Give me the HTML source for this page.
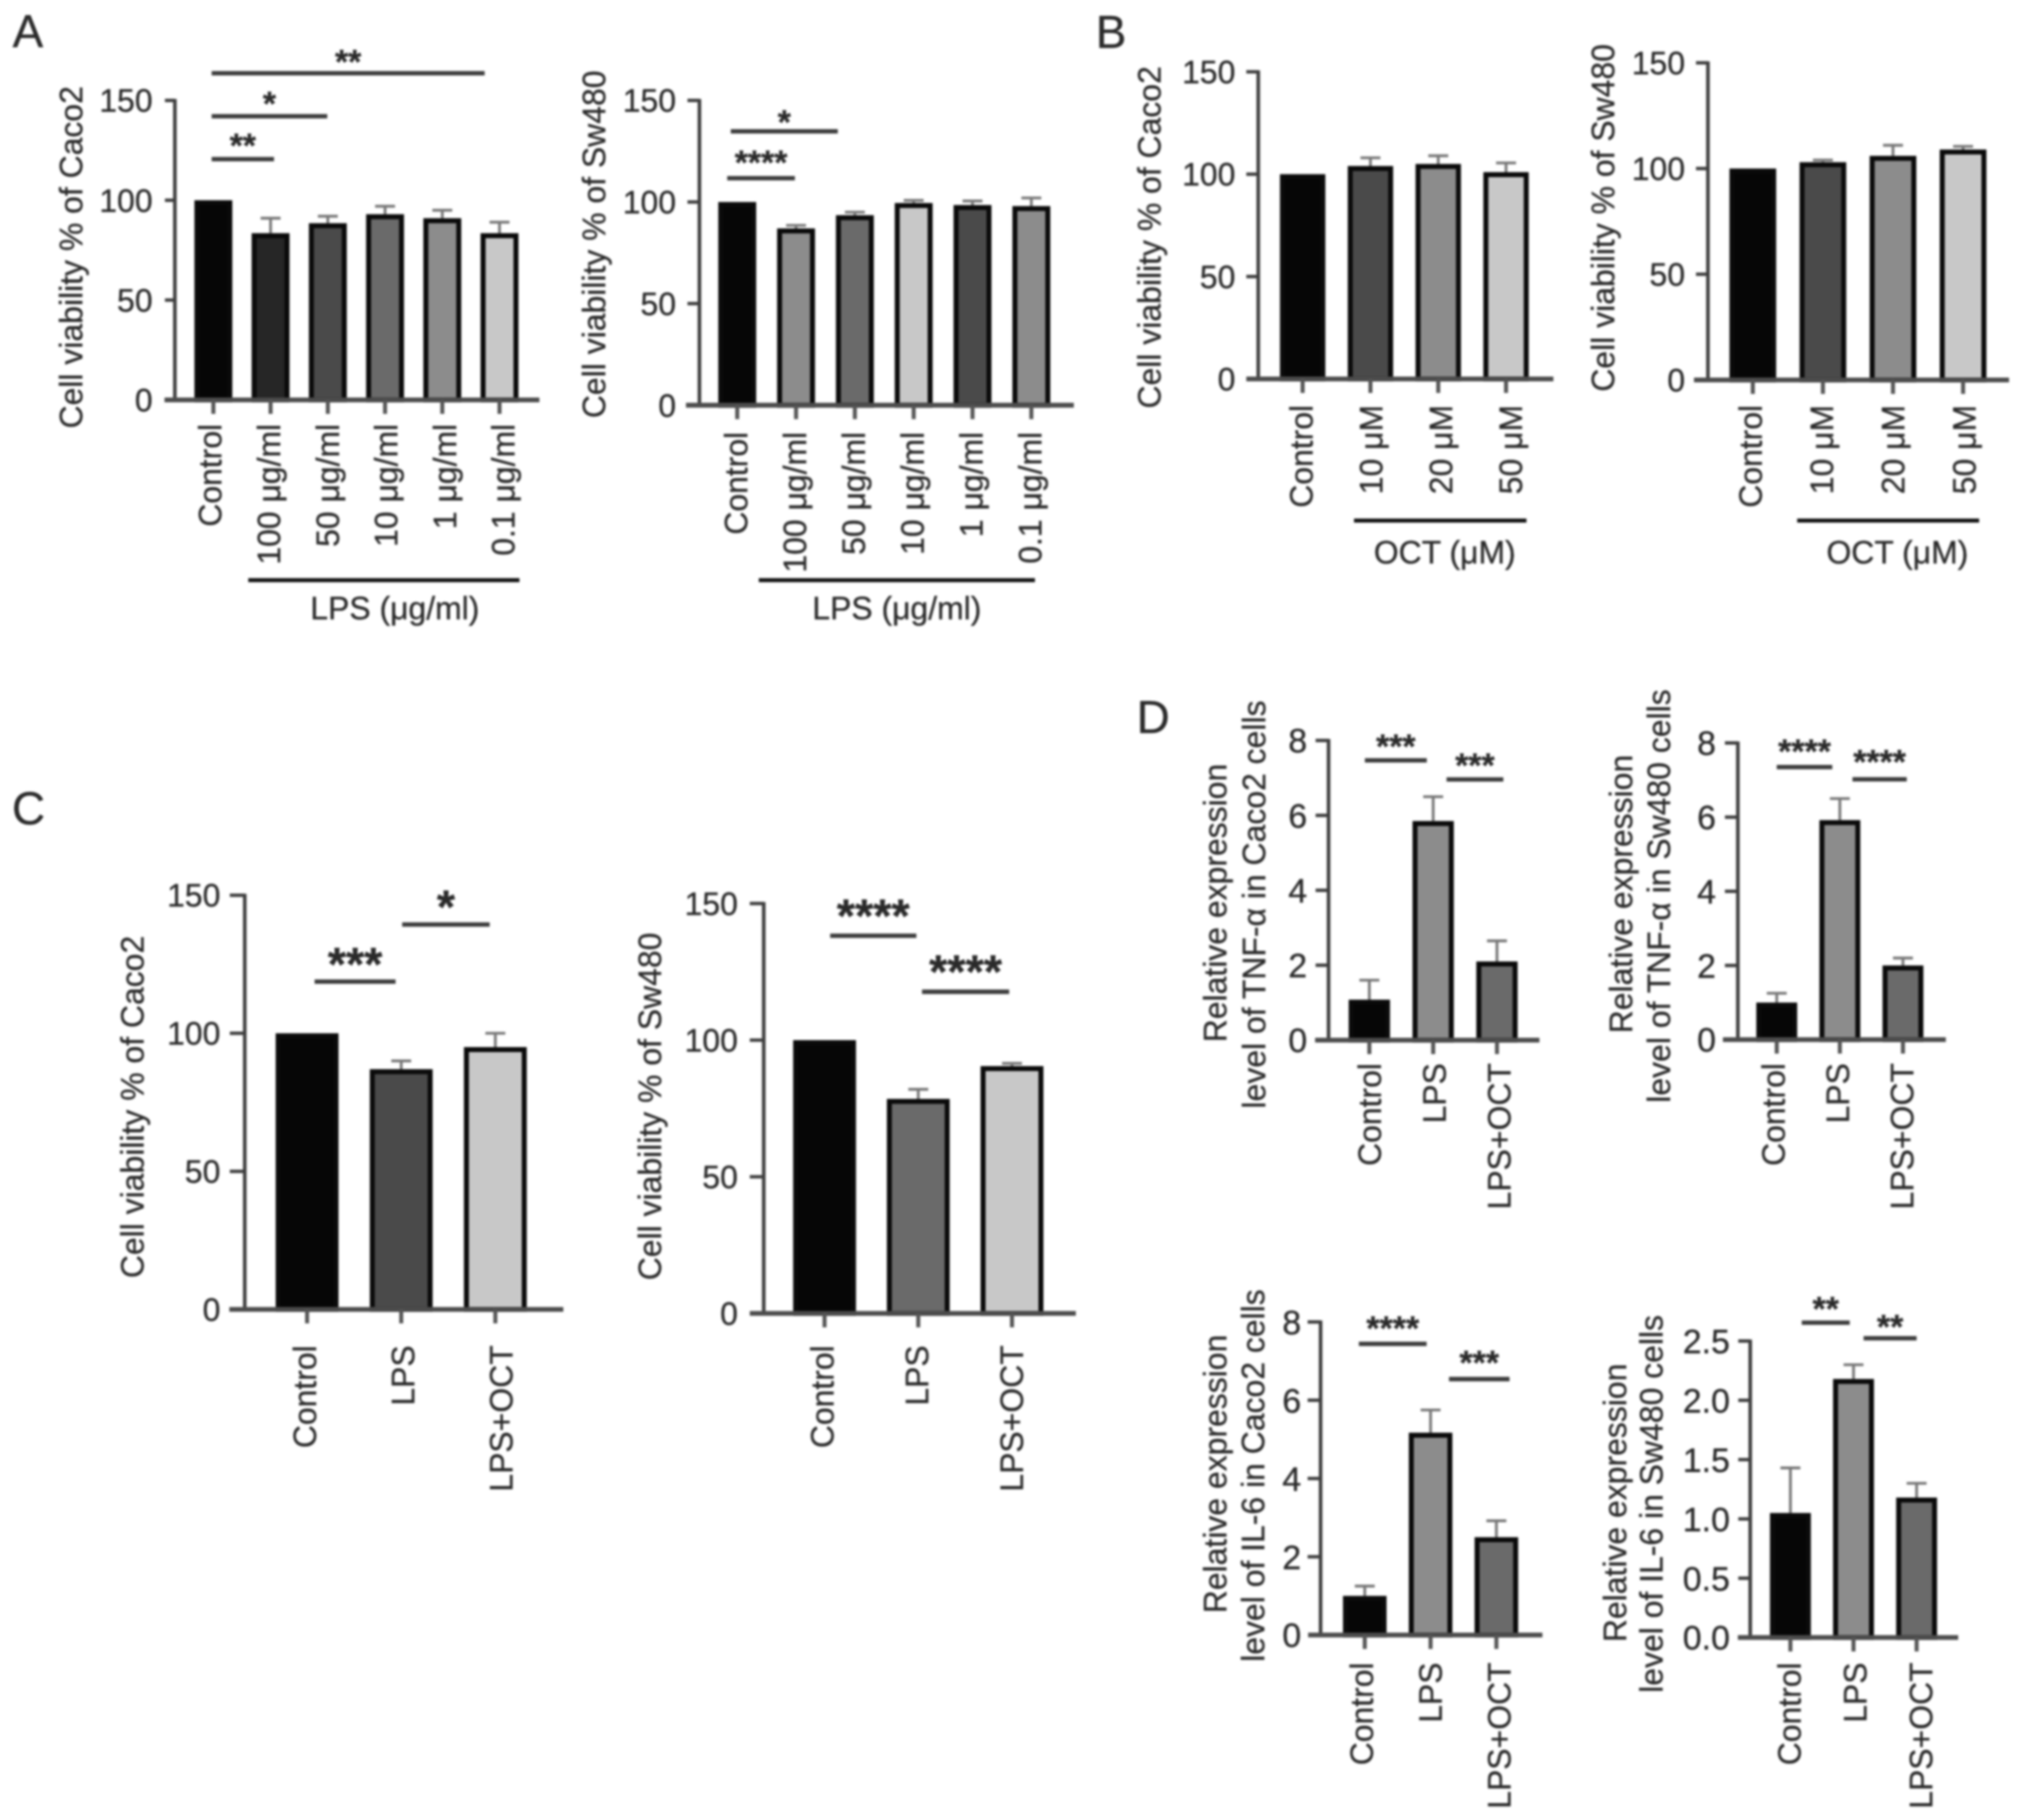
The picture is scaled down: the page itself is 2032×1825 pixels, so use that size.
<!DOCTYPE html>
<html lang="en">
<head>
<meta charset="utf-8">
<title>Cell viability and cytokine expression panels</title>
<style>
html,body{margin:0;padding:0;background:#fff;width:2032px;height:1825px;overflow:hidden}
svg{display:block;filter:blur(1px)}
text{font-family:"Liberation Sans",sans-serif;fill:#2a2a2a;stroke:#2a2a2a;stroke-width:0.3px}
</style>
</head>
<body>
<svg id="figure" xmlns="http://www.w3.org/2000/svg" width="2032" height="1825" viewBox="0 0 2032 1825"></svg>
<script>
// ---- Data: categories, series values, error tops, tick labels ----
const lpsDoseCategories = ["Control","100 μg/ml","50 μg/ml","10 μg/ml","1 μg/ml","0.1 μg/ml"];
const octDoseCategories = ["Control","10 μM","20 μM","50 μM"];
const treatmentCategories = ["Control","LPS","LPS+OCT"];

const viabilityTicks = [0,50,100,150];
const viabilityTickLabels = ["0","50","100","150"];
const expressionTicks = [0,2,4,6,8];
const expressionTickLabels = ["0","2","4","6","8"];
const il6Sw480Ticks = [0,0.5,1,1.5,2,2.5];
const il6Sw480TickLabels = ["0.0","0.5","1.0","1.5","2.0","2.5"];

const a1Values = [100,83.5,88.5,93,91,83.5];
const a1ErrorTops = [100,91,92,97,95,89];
const a2Values = [100,87,93.5,99.5,98.5,98];
const a2ErrorTops = [100,88.5,95,100.8,100.5,102];
const b1Values = [100,104,105,101];
const b1ErrorTops = [100,108,109,105.5];
const b2Values = [100,103,106,109];
const b2ErrorTops = [100,104,111,110.5];
const c1Values = [100,87,95];
const c1ErrorTops = [100,90,100];
const c2Values = [100,78.5,90.5];
const c2ErrorTops = [100,82,91.5];
const d1Values = [1.08,5.85,2.1];
const d1ErrorTops = [1.6,6.5,2.65];
const d2Values = [1,5.92,2];
const d2ErrorTops = [1.25,6.5,2.2];
const d3Values = [1,5.17,2.5];
const d3ErrorTops = [1.25,5.75,2.92];
const d4Values = [1.05,2.18,1.18];
const d4ErrorTops = [1.43,2.3,1.3];

// Significance brackets: from/to in category units, level in y-axis units
const a1Brackets = [{from:-0.03,to:4.74,level:163.6,stars:"**"},{from:-0.03,to:1.99,level:142.1,stars:"*"},{from:-0.03,to:1.06,level:120.6,stars:"**"}];
const a2Brackets = [{from:-0.11,to:1.71,level:134.8,stars:"*"},{from:-0.17,to:0.98,level:111.7,stars:"****"}];
const c1Brackets = [{from:0.08,to:0.94,level:118.7,stars:"***"},{from:1.01,to:1.94,level:139.4,stars:"*"}];
const c2Brackets = [{from:0.06,to:0.98,level:138.2,stars:"****"},{from:1.04,to:1.97,level:117.7,stars:"****"}];
const d1Brackets = [{from:-0.07,to:0.9,level:7.47,stars:"***"},{from:1.21,to:2.1,level:6.96,stars:"***"}];
const d2Brackets = [{from:0,to:0.88,level:7.35,stars:"****"},{from:1.2,to:2.06,level:7.02,stars:"****"}];
const d3Brackets = [{from:-0.09,to:0.94,level:7.44,stars:"****"},{from:1.28,to:2.2,level:6.54,stars:"***"}];
const d4Brackets = [{from:0.18,to:0.94,level:2.655,stars:"**"},{from:1.16,to:2,level:2.523,stars:"**"}];

// ---- Layout (pixels and styles only) ----
const K="#060606",G2="#262626",G3="#4a4a4a",G4="#6a6a6a",G5="#8c8c8c",G6="#c8c8c8";
const panels = [
 {id:"a1",cats:lpsDoseCategories,vals:a1Values,errs:a1ErrorTops,ticks:viabilityTicks,tickLabels:viabilityTickLabels,brackets:a1Brackets,
  fills:[K,G2,G3,G4,G5,G6],axisX:175.4,y0:401,yTop:100.7,x0:214,step:57.4,bw:38,axisL:165,axisR:541,tickFs:32,tickRight:153,yTick:10,labelTop:425,labelDx:-3,labelStep:58.8,
  titles:[{text:"Cell viability % of Caco2",x:71.5,cy:258}],group:{x1:249,x2:521,y:581.7,text:"LPS (μg/ml)",cx:396,cy:610},starFs:34,starDys:[0,-1,-2]},
 {id:"a2",cats:lpsDoseCategories,vals:a2Values,errs:a2ErrorTops,ticks:viabilityTicks,tickLabels:viabilityTickLabels,brackets:a2Brackets,
  fills:[K,G5,G4,G6,G3,G5],axisX:701.5,y0:406.3,yTop:100.7,x0:739.4,step:59,bw:38,axisL:688,axisR:1077,tickFs:32,tickRight:678,yTick:12,labelTop:433,labelDx:-1,labelStep:59,
  titles:[{text:"Cell viability % of Sw480",x:596,cy:245}],group:{x1:761,x2:1038,y:581.7,text:"LPS (μg/ml)",cx:899.5,cy:610},starFs:34,starDys:[2.5,-4]},
 {id:"b1",cats:octDoseCategories,vals:b1Values,errs:b1ErrorTops,ticks:viabilityTicks,tickLabels:viabilityTickLabels,brackets:[],
  fills:[K,G3,G5,G6],axisX:1262,y0:380,yTop:72,x0:1306.5,step:68,bw:45.5,axisL:1250,axisR:1558,tickFs:32,tickRight:1239,yTick:12,labelTop:406,labelDx:-1,labelStep:70,
  titles:[{text:"Cell viability % of Caco2",x:1153,cy:238}],group:{x1:1358,x2:1531,y:522,text:"OCT (μM)",cx:1449,cy:554},starFs:34,starDys:[]},
 {id:"b2",cats:octDoseCategories,vals:b2Values,errs:b2ErrorTops,ticks:viabilityTicks,tickLabels:viabilityTickLabels,brackets:[],
  fills:[K,G3,G5,G6],axisX:1713,y0:381,yTop:63,x0:1758,step:70.3,bw:46.8,axisL:1699,axisR:2015,tickFs:32,tickRight:1690,yTick:12,labelTop:406,labelDx:-2,labelStep:71.5,
  titles:[{text:"Cell viability % of Sw480",x:1608,cy:218.5}],group:{x1:1802.5,x2:1985,y:522,text:"OCT (μM)",cx:1903,cy:554},starFs:34,starDys:[]},
 {id:"c1",cats:treatmentCategories,vals:c1Values,errs:c1ErrorTops,ticks:viabilityTicks,tickLabels:viabilityTickLabels,brackets:c1Brackets,
  fills:[K,G3,G6],axisX:245.5,y0:1313,yTop:897.7,x0:308,step:94.4,bw:63,axisL:230,axisR:565,tickFs:32,tickRight:221,yTick:15,labelTop:1349,labelDx:-2,labelStep:98.5,
  titles:[{text:"Cell viability % of Caco2",x:133,cy:1110}],starFs:47,starDys:[-1.5,-1.5]},
 {id:"c2",cats:treatmentCategories,vals:c2Values,errs:c2ErrorTops,ticks:viabilityTicks,tickLabels:viabilityTickLabels,brackets:c2Brackets,
  fills:[K,G4,G6],axisX:766,y0:1317,yTop:906,x0:827,step:94,bw:63,axisL:752,axisR:1079,tickFs:32,tickRight:740,yTick:14,labelTop:1349,labelDx:-2,labelStep:95,
  titles:[{text:"Cell viability % of Sw480",x:652,cy:1109.5}],starFs:47,starDys:[-4,-4]},
 {id:"d1",cats:treatmentCategories,vals:d1Values,errs:d1ErrorTops,ticks:expressionTicks,tickLabels:expressionTickLabels,brackets:d1Brackets,
  fills:[K,G5,G4],axisX:1332.5,y0:1043,yTop:742.5,x0:1373.4,step:64,bw:41.4,axisL:1319,axisR:1544,tickFs:34,tickRight:1311,yTick:13,labelTop:1066,labelDx:0.5,labelStep:65,
  titles:[{text:"Relative expression",x:1219,cy:905.5},{text:"level of TNF-α in Caco2 cells",x:1258,cy:907}],starFs:34,starDys:[-2.5,-2.5]},
 {id:"d2",cats:treatmentCategories,vals:d2Values,errs:d2ErrorTops,ticks:expressionTicks,tickLabels:expressionTickLabels,brackets:d2Brackets,
  fills:[K,G5,G4],axisX:1743,y0:1042.5,yTop:745,x0:1782,step:63.3,bw:41,axisL:1728,axisR:1951.6,tickFs:34,tickRight:1721,yTick:13,labelTop:1066,labelDx:-3,labelStep:64.5,
  titles:[{text:"Relative expression",x:1626,cy:896.5},{text:"level of TNF-α in Sw480 cells",x:1664,cy:898.5}],starFs:34,starDys:[-4,-6]},
 {id:"d3",cats:treatmentCategories,vals:d3Values,errs:d3ErrorTops,ticks:expressionTicks,tickLabels:expressionTickLabels,brackets:d3Brackets,
  fills:[K,G5,G4],axisX:1324.5,y0:1639.5,yTop:1325.6,x0:1368.8,step:66,bw:43.7,axisL:1312,axisR:1547,tickFs:34,tickRight:1305,yTick:13,labelTop:1667,labelDx:-2.8,labelStep:69,
  titles:[{text:"Relative expression",x:1219,cy:1478},{text:"level of IL-6 in Caco2 cells",x:1256.6,cy:1479.6}],starFs:34,starDys:[-4,-5]},
 {id:"d4",cats:treatmentCategories,vals:d4Values,errs:d4ErrorTops,ticks:il6Sw480Ticks,tickLabels:il6Sw480TickLabels,brackets:d4Brackets,
  fills:[K,G5,G4],axisX:1755.4,y0:1642,yTop:1344.7,x0:1795.7,step:63.3,bw:41,axisL:1743,axisR:1964,tickFs:34,tickRight:1735,yTick:12,labelTop:1667,labelDx:-1,labelStep:66,
  titles:[{text:"Relative expression",x:1620,cy:1507},{text:"level of IL-6 in Sw480 cells",x:1656.5,cy:1508}],starFs:34,starDys:[-2.5,0]}
];
const panelLetters = [{text:"A",x:12.6,y:47.7},{text:"B",x:1099,y:47.8},{text:"C",x:12,y:826.5},{text:"D",x:1140,y:735}];

// ---- Drawing ----
const NS = "http://www.w3.org/2000/svg";
const root = document.getElementById("figure");
function make(tag, parent, props, content){
  const el = document.createElementNS(NS, tag);
  for (const k in props) el.setAttribute(k, props[k]);
  if (content !== undefined) el.textContent = content;
  parent.appendChild(el);
  return el;
}
function line(parent,x1,y1,x2,y2,stroke,w){
  return make("line",parent,{x1:x1,y1:y1,x2:x2,y2:y2,stroke:stroke,"stroke-width":w});
}
function rotatedText(parent,str,x,y,fs,anchor){
  return make("text",parent,{x:x,y:y,dy:"0.35em","font-size":fs,"text-anchor":anchor,transform:"rotate(-90 "+x+" "+y+")"},str);
}

panelLetters.forEach(function(p){
  const el = make("text",root,{x:p.x,y:p.y,"font-size":46},p.text);
  
  
});

panels.forEach(function(p){
  const maxTick = p.ticks[p.ticks.length-1];
  const yScale = function(v){ return p.y0 - v*(p.y0-p.yTop)/maxTick; };
  const xScale = function(i){ return p.x0 + i*p.step; };

  const g = make("g",root,{});
  
  

  // bars
  p.vals.forEach(function(v,i){
    const cx = xScale(i), top = yScale(v), errTop = yScale(p.errs[i]);
    if (p.errs[i] > v){
      const stem = line(g,cx,top,cx,errTop,"#777",2.8);
      
      
      const cap = line(g,cx-10,errTop,cx+10,errTop,"#777",2.8);
      
      
    }
    const bar = make("rect",g,{x:cx-p.bw/2+2.5,y:top+2.5,width:p.bw-5,height:Math.max(0,p.y0-top-2.5),fill:p.fills[i],stroke:"#0a0a0a","stroke-width":5});
    
    
  });

  // y axis
  const yAxis = line(g,p.axisX,p.yTop-1.5,p.axisX,p.y0,"#3e3e3e",3.6);
  
  
  p.ticks.forEach(function(t,i){
    const y = yScale(t);
    if (t !== 0) {
      const tick = line(g,p.axisX-p.yTick,y,p.axisX,y,"#3e3e3e",3.4);
      
      
    }
    const lab = make("text",g,{x:p.tickRight,y:y,dy:"0.36em","font-size":p.tickFs,"text-anchor":"end"},p.tickLabels[i]);
    
    
  });

  // x axis
  const xAxis = line(g,p.axisL,p.y0,p.axisR,p.y0,"#4c4c4c",4.8);
  
  
  p.cats.forEach(function(c,i){
    const cx = xScale(i);
    const tick = line(g,cx,p.y0,cx,p.y0+14,"#555",4);
    
    
    const lab = rotatedText(g,c,p.x0+p.labelDx+i*p.labelStep,p.labelTop,32,"end");
    
    
  });

  // y-axis titles
  p.titles.forEach(function(t,i){
    const el = rotatedText(g,t.text,t.x,t.cy,32,"middle");
    
    
  });

  // group underline and label
  if (p.group){
    const u = line(g,p.group.x1,p.group.y,p.group.x2,p.group.y,"#111",4);
    
    
    const gt = make("text",g,{x:p.group.cx,y:p.group.cy,dy:"0.35em","font-size":32,"text-anchor":"middle"},p.group.text);
    
    
  }

  // significance brackets
  p.brackets.forEach(function(b,i){
    const y = yScale(b.level), x1 = xScale(b.from), x2 = xScale(b.to);
    const l = line(g,x1,y,x2,y,"#3c3c3c",4.4);
    
    
    const s = make("text",g,{x:(x1+x2)/2,y:y+p.starDys[i],"font-size":p.starFs,"font-weight":"bold","text-anchor":"middle"},b.stars);
    
    
  });
});
</script>
</body>
</html>
